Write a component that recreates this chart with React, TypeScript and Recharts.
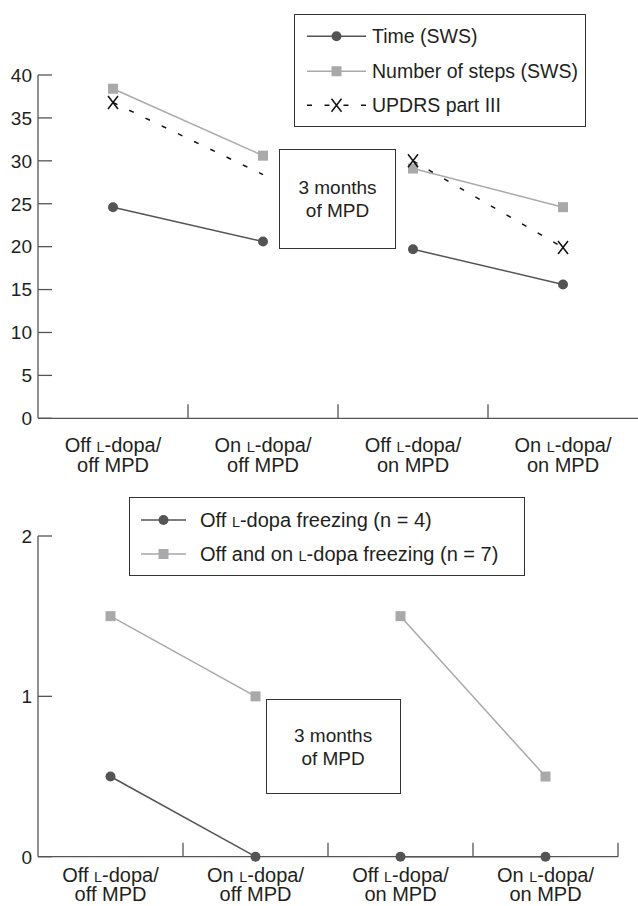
import { LineChart, Line, XAxis, YAxis, Legend } from "recharts";

// axis categories (two-line tick labels)
const tickLine1 = ["Off L-dopa/", "On L-dopa/", "Off L-dopa/", "On L-dopa/"];
const tickLine2 = ["off MPD", "off MPD", "on MPD", "on MPD"];
const categories = tickLine1.map((a, i) => `${a} ${tickLine2[i]}`);

// top panel
const timeSWS = [24.6, 20.6, 19.7, 15.6];
const stepsSWS = [38.4, 30.6, 29.1, 24.6];
const updrs = [36.8, 28.4, 30.0, 19.9];
const topTicks = [0, 5, 10, 15, 20, 25, 30, 35, 40];

// bottom panel
const offFreezing = [0.5, 0, 0, 0];
const offOnFreezing = [1.5, 1.0, 1.5, 0.5];
const bottomTicks = [0, 1, 2];

const DARK = "#545454";
const LIGHT = "#a9a9ab";
const TEXT = "#231f20";
const AXIS = "#555";
const FONT = "'Liberation Sans', Arial, sans-serif";

// split a series in two segments (before / after the 3 months of MPD)
const split = (vals: number[]) => ({
  pre: vals.map((v, i) => (i < 2 ? v : null)),
  post: vals.map((v, i) => (i >= 2 ? v : null)),
});

const t = split(timeSWS);
const s = split(stepsSWS);
const u = split(updrs);
const topData = categories.map((cat, i) => ({
  cat,
  timePre: t.pre[i],
  timePost: t.post[i],
  stepsPre: s.pre[i],
  stepsPost: s.post[i],
  updrsPre: u.pre[i],
  updrsPost: u.post[i],
}));

const f1 = split(offFreezing);
const f2 = split(offOnFreezing);
const bottomData = categories.map((cat, i) => ({
  cat,
  offPre: f1.pre[i],
  offPost: f1.post[i],
  bothPre: f2.pre[i],
  bothPost: f2.post[i],
}));

function svgL(text: string, size: number) {
  const [a, b] = text.split("L");
  if (b === undefined) return text;
  return (
    <>
      {a}
      <tspan fontSize={size * 0.72}>L</tspan>
      {b}
    </>
  );
}

function htmlL(text: string) {
  const [a, b] = text.split("L");
  if (b === undefined) return text;
  return (
    <>
      {a}
      <span style={{ fontSize: "0.72em" }}>L</span>
      {b}
    </>
  );
}

const circleDot = (props: any) => {
  const { cx, cy, index, dataKey } = props;
  if (cx == null || cy == null) return <g key={`${dataKey}-${index}`} />;
  return <circle key={`${dataKey}-${index}`} cx={cx} cy={cy} r={5} fill={DARK} />;
};

const squareDot = (props: any) => {
  const { cx, cy, index, dataKey } = props;
  if (cx == null || cy == null) return <g key={`${dataKey}-${index}`} />;
  return <rect key={`${dataKey}-${index}`} x={cx - 5} y={cy - 5} width={10} height={10} fill={LIGHT} />;
};

// the second UPDRS point has no marker in the figure
const crossDot = (props: any) => {
  const { cx, cy, index, dataKey } = props;
  if (cx == null || cy == null || (dataKey === "updrsPre" && index === 1))
    return <g key={`${dataKey}-${index}`} />;
  return (
    <path
      key={`${dataKey}-${index}`}
      d={`M${cx - 5},${cy - 6.5}L${cx + 5},${cy + 6.5}M${cx + 5},${cy - 6.5}L${cx - 5},${cy + 6.5}`}
      stroke="#111"
      strokeWidth={1.5}
      fill="none"
    />
  );
};

const makeYTick = (fontSize: number) => (props: any) => {
  const { x, y, payload } = props;
  return (
    <g>
      <line x1={x + 6} x2={x + 20} y1={y} y2={y} stroke={AXIS} strokeWidth={1.3} />
      <text x={x} y={y} dy="0.36em" textAnchor="end" fontSize={fontSize} fill={TEXT} fontFamily={FONT}>
        {payload.value}
      </text>
    </g>
  );
};

const X_FONT = 20;

const makeXTick = (half: number, dy1: number, dy2: number, lastDivider: boolean) => (props: any) => {
  const { x, y, payload } = props;
  const i = categories.indexOf(payload.value);
  const showDiv = i < 3 || lastDivider;
  return (
    <g>
      {showDiv && (
        <line x1={x + half} x2={x + half} y1={y} y2={y - 14} stroke={AXIS} strokeWidth={1.3} />
      )}
      <text x={x} y={y} textAnchor="middle" fontSize={X_FONT} fill={TEXT} fontFamily={FONT}>
        <tspan x={x} dy={dy1}>
          {svgL(tickLine1[i], X_FONT)}
        </tspan>
        <tspan x={x} dy={dy2 - dy1}>
          {tickLine2[i]}
        </tspan>
      </text>
    </g>
  );
};

type LegendItem = { label: string; color: string; marker: "circle" | "square" | "cross"; dashed?: boolean };

const topLegend: LegendItem[] = [
  { label: "Time (SWS)", color: DARK, marker: "circle" },
  { label: "Number of steps (SWS)", color: LIGHT, marker: "square" },
  { label: "UPDRS part III", color: "#111", marker: "cross", dashed: true },
];

const bottomLegend: LegendItem[] = [
  { label: "Off L-dopa freezing (n = 4)", color: DARK, marker: "circle" },
  { label: "Off and on L-dopa freezing (n = 7)", color: LIGHT, marker: "square" },
];

function LegendBox({
  items,
  width,
  rowH,
  padTop,
  lineX1,
  lineX2,
  textX,
  fontSize,
}: {
  items: LegendItem[];
  width: number;
  rowH: number;
  padTop: number;
  lineX1: number;
  lineX2: number;
  textX: number;
  fontSize: number;
}) {
  const mid = (lineX1 + lineX2) / 2;
  return (
    <div
      style={{
        width,
        boxSizing: "border-box",
        border: "1.6px solid #333",
        paddingTop: padTop,
        paddingBottom: padTop - 1,
        background: "#fff",
        fontFamily: FONT,
        color: TEXT,
        fontSize,
      }}
    >
      {items.map((it) => (
        <div key={it.label} style={{ position: "relative", height: rowH }}>
          <svg width={textX} height={rowH} style={{ position: "absolute", left: 0, top: 0 }}>
            {it.dashed ? (
              <>
                <line x1={lineX1} x2={lineX1 + 5} y1={rowH / 2} y2={rowH / 2} stroke="#111" strokeWidth={1.5} />
                <line x1={mid - 12} x2={mid - 7} y1={rowH / 2} y2={rowH / 2} stroke="#111" strokeWidth={1.5} />
                <line x1={mid + 7} x2={mid + 12} y1={rowH / 2} y2={rowH / 2} stroke="#111" strokeWidth={1.5} />
                <line x1={lineX2 - 5} x2={lineX2} y1={rowH / 2} y2={rowH / 2} stroke="#111" strokeWidth={1.5} />
                <path
                  d={`M${mid - 5},${rowH / 2 - 6.5}L${mid + 5},${rowH / 2 + 6.5}M${mid + 5},${rowH / 2 - 6.5}L${mid - 5},${rowH / 2 + 6.5}`}
                  stroke="#111"
                  strokeWidth={1.5}
                />
              </>
            ) : (
              <>
                <line x1={lineX1} x2={lineX2} y1={rowH / 2} y2={rowH / 2} stroke={it.color} strokeWidth={1.5} />
                {it.marker === "circle" ? (
                  <circle cx={mid} cy={rowH / 2} r={5} fill={it.color} />
                ) : (
                  <rect x={mid - 5} y={rowH / 2 - 5} width={10} height={10} fill={it.color} />
                )}
              </>
            )}
          </svg>
          <div style={{ position: "absolute", left: textX, top: 0, lineHeight: `${rowH}px`, whiteSpace: "nowrap" }}>
            {htmlL(it.label)}
          </div>
        </div>
      ))}
    </div>
  );
}

function NoteBox({ left, top, width, height }: { left: number; top: number; width: number; height: number }) {
  return (
    <div
      style={{
        position: "absolute",
        left,
        top,
        width,
        height,
        boxSizing: "border-box",
        border: "1.6px solid #333",
        background: "#fff",
        display: "flex",
        flexDirection: "column",
        justifyContent: "center",
        alignItems: "center",
        fontFamily: FONT,
        fontSize: 19,
        lineHeight: "23px",
        color: TEXT,
      }}
    >
      <div>3 months</div>
      <div>of MPD</div>
    </div>
  );
}

export default function App() {
  return (
    <div style={{ position: "absolute", left: 0, top: 0, width: 638, height: 906, background: "#fff" }}>
      <div style={{ position: "absolute", left: 0, top: 0 }}>
        <LineChart width={638} height={480} data={topData} margin={{ top: 75, right: 0, bottom: 0, left: 0 }}>
          <XAxis
            dataKey="cat"
            type="category"
            padding={{ left: 75, right: 75 }}
            height={61.7}
            axisLine={{ stroke: AXIS, strokeWidth: 1.3 }}
            tickLine={false}
            tickSize={0}
            tickMargin={0}
            interval={0}
            tick={makeXTick(75, 34, 53.5, false)}
          />
          <YAxis
            width={38}
            domain={[0, 40]}
            ticks={topTicks}
            interval={0}
            axisLine={{ stroke: AXIS, strokeWidth: 1.3 }}
            tickLine={false}
            tickSize={0}
            tickMargin={6}
            tick={makeYTick(19)}
          />
          <Legend
            layout="horizontal"
            verticalAlign="middle"
            align="center"
            wrapperStyle={{ position: "absolute", left: 294, top: 14, width: 292 }}
            content={() => (
              <LegendBox items={topLegend} width={292} rowH={34.5} padTop={4} lineX1={12} lineX2={71} textX={77} fontSize={19.5} />
            )}
          />
          <Line dataKey="stepsPre" stroke={LIGHT} strokeWidth={1.5} dot={squareDot} isAnimationActive={false} legendType="none" />
          <Line dataKey="stepsPost" stroke={LIGHT} strokeWidth={1.5} dot={squareDot} isAnimationActive={false} legendType="none" />
          <Line dataKey="timePre" stroke={DARK} strokeWidth={1.5} dot={circleDot} isAnimationActive={false} legendType="none" />
          <Line dataKey="timePost" stroke={DARK} strokeWidth={1.5} dot={circleDot} isAnimationActive={false} legendType="none" />
          <Line dataKey="updrsPre" stroke="#111" strokeWidth={1.5} strokeDasharray="5 13" dot={crossDot} isAnimationActive={false} legendType="none" />
          <Line dataKey="updrsPost" stroke="#111" strokeWidth={1.5} strokeDasharray="5 13" dot={crossDot} isAnimationActive={false} legendType="none" />
        </LineChart>
        <NoteBox left={279} top={149} width={117} height={100} />
      </div>

      <div style={{ position: "absolute", left: 0, top: 480 }}>
        <LineChart width={638} height={426} data={bottomData} margin={{ top: 56, right: 20, bottom: 0, left: 0 }}>
          <XAxis
            dataKey="cat"
            type="category"
            padding={{ left: 72.5, right: 72.5 }}
            height={49.3}
            axisLine={{ stroke: AXIS, strokeWidth: 1.3 }}
            tickLine={false}
            tickSize={0}
            tickMargin={0}
            interval={0}
            tick={makeXTick(72.5, 25, 44.5, true)}
          />
          <YAxis
            width={38}
            domain={[0, 2]}
            ticks={bottomTicks}
            interval={0}
            axisLine={{ stroke: AXIS, strokeWidth: 1.3 }}
            tickLine={false}
            tickSize={0}
            tickMargin={6}
            tick={makeYTick(19)}
          />
          <Legend
            layout="horizontal"
            verticalAlign="middle"
            align="center"
            wrapperStyle={{ position: "absolute", left: 129, top: 17, width: 396 }}
            content={() => (
              <LegendBox items={bottomLegend} width={396} rowH={34} padTop={5} lineX1={11} lineX2={56} textX={70} fontSize={20} />
            )}
          />
          <Line dataKey="bothPre" stroke={LIGHT} strokeWidth={1.5} dot={squareDot} isAnimationActive={false} legendType="none" />
          <Line dataKey="bothPost" stroke={LIGHT} strokeWidth={1.5} dot={squareDot} isAnimationActive={false} legendType="none" />
          <Line dataKey="offPre" stroke={DARK} strokeWidth={1.5} dot={circleDot} isAnimationActive={false} legendType="none" />
          <Line dataKey="offPost" stroke={DARK} strokeWidth={1.5} dot={circleDot} isAnimationActive={false} legendType="none" />
        </LineChart>
        <NoteBox left={265.6} top={219} width={135} height={95} />
      </div>
    </div>
  );
}
